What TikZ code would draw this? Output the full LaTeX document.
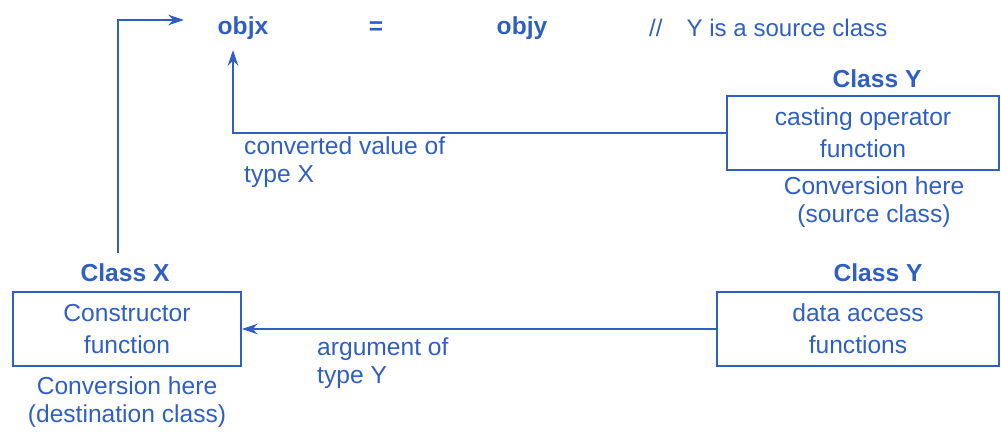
\documentclass[tikz,border=0pt]{standalone}
\usepackage{fontspec}
\setmainfont{Liberation Sans}
\usetikzlibrary{positioning,arrows.meta}
\definecolor{convblue}{HTML}{2F5FC0}
\tikzset{
  conv box/.style={draw=convblue, line width=1pt, text=convblue,
    align=center, inner sep=0pt, font=\fontsize{14}{18}\selectfont},
  class label/.style={text=convblue, font=\fontsize{14}{17}\selectfont\bfseries},
  code label/.style={text=convblue, font=\fontsize{14}{17}\selectfont\bfseries},
  note label/.style={text=convblue, font=\fontsize{14}{16}\selectfont},
  conv line/.style={draw=convblue, line width=1.1pt},
  conv arrow/.style={conv line, -{Stealth[length=9pt, width=6pt]}},
}

\begin{document}
\begin{tikzpicture}[x=0.02cm, y=-0.02cm]
  \useasboundingbox (0,0) rectangle (1001,432);

  % statement on top
  \node[code label] (objx) at (243,28) {objx};
  \node[code label] (eq) at (376,28) {=};
  \node[code label] (objy) at (522,28) {objy};
  \node[note label, anchor=west, font=\fontsize{13.7}{16}\selectfont] (cmt) at (643,28)
    {//\quad Y is a source class};

  % class Y, source side
  \node[conv box, minimum width=5.44cm, minimum height=1.48cm] (cast) at (863,133)
    {casting operator\\function};
  \node[class label] (clsYtop) at (877,79) {Class Y};
  \node[note label, align=center] (srcnote) at (874,202)
    {Conversion here\\(source class)};

  % class X, destination side
  \node[conv box, minimum width=4.56cm, minimum height=1.48cm] (ctor) at (127,329)
    {Constructor\\function};
  \node[class label] (clsX) at (125,273) {Class X};
  \node[note label, align=center] (dstnote) at (127,402)
    {Conversion here\\(destination class)};

  % class Y, data access
  \node[conv box, minimum width=5.64cm, minimum height=1.48cm] (access) at (858,329)
    {data access\\functions};
  \node[class label] (clsYbot) at (878,273) {Class Y};

  % connectors
  \coordinate (ctorfoot) at (118,253);
  \coordinate (ctortip) at (184,20);
  \coordinate (casttip) at (233,50);
  \draw[conv arrow] (ctorfoot) |- (ctortip);
  \draw[conv arrow] (cast.west) -| (casttip);
  \draw[conv arrow] (access.west) -- (ctor.east);

  \node[note label, align=left, anchor=west] (convval) at (238,162)
    {converted value of\\type X};
  \node[note label, align=left, anchor=west] (argval) at (311,363)
    {argument of\\type Y};
\end{tikzpicture}
\end{document}
